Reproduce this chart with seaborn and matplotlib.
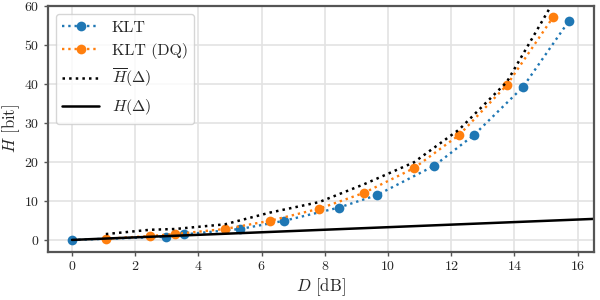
import matplotlib
matplotlib.use("Agg")
import matplotlib.pyplot as plt
import seaborn as sns

# KLT
d_klt = [0.0, 2.97, 3.54, 5.32, 6.71, 8.45, 9.65, 11.46, 12.72, 14.27, 15.73]
h_klt = [0.0, 0.8, 1.4, 2.8, 4.9, 8.3, 11.5, 19.0, 26.9, 39.2, 56.2]

# KLT (DQ)
d_dq = [1.07, 2.47, 3.26, 4.84, 6.26, 7.82, 9.25, 10.82, 12.25, 13.76, 15.23]
h_dq = [0.3, 1.0, 1.5, 2.8, 4.9, 8.0, 12.1, 18.4, 26.9, 39.7, 57.2]

# upper bound
h_bar = [1.5, 2.6, 2.8, 4.0, 7.0, 9.7, 14.3, 19.9, 28.3, 40.5, 61.0]

# H(Delta)
d_lin = [0.0, 17.0]
h_lin = [0.0, 5.55]

sns.set_style("whitegrid")
plt.rcParams['font.family'] = ['cmr10', 'DejaVu Serif']
plt.rcParams['mathtext.fontset'] = 'cm'
plt.rcParams['axes.formatter.use_mathtext'] = True

fig = plt.figure(figsize=(6, 3), dpi=100)
ax = fig.add_axes([0.08, 0.16, 0.91, 0.82])

sns.lineplot(x=d_klt, y=h_klt, ax=ax, label='KLT', color='#1f77b4', linestyle=':',
             linewidth=1.7, marker='o', markersize=7, markeredgewidth=0)
sns.lineplot(x=d_dq, y=h_dq, ax=ax, label='KLT (DQ)', color='#ff7f0e', linestyle=':',
             linewidth=1.7, marker='o', markersize=7, markeredgewidth=0)
sns.lineplot(x=d_dq, y=h_bar, ax=ax, label=r'$\overline{H}(\Delta)$', color='black',
             linestyle=':', linewidth=1.8)
sns.lineplot(x=d_lin, y=h_lin, ax=ax, label=r'$H(\Delta)$', color='black',
             linewidth=1.8)

ax.set_xlim(-0.76, 16.52)
ax.set_ylim(-3.1, 60)
ax.set_xticks([0, 2, 4, 6, 8, 10, 12, 14, 16])
ax.set_yticks([0, 10, 20, 30, 40, 50, 60])
ax.set_xlabel(r'$D$ [dB]', fontsize=12, labelpad=2)
ax.set_ylabel(r'$H$ [bit]', fontsize=12)
ax.yaxis.set_label_coords(-0.048, 0.5)
ax.tick_params(axis='both', labelsize=10, length=3, width=1, color='#555555',
               bottom=True, left=True, direction='out', pad=3)
ax.grid(True, color='#e3e3e3', linewidth=1.2)
for s in ax.spines.values():
    s.set_color('#555555')
    s.set_linewidth(1.6)

ax.legend(loc='upper left', fontsize=11.5, frameon=True, edgecolor='#cccccc',
          handlelength=2.3)

plt.savefig('out.png', dpi=100)
